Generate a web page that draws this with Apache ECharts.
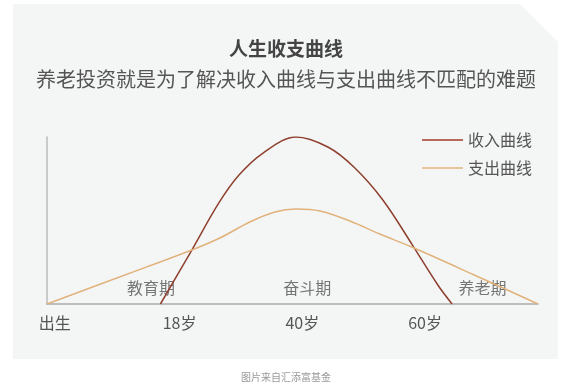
<!DOCTYPE html>
<html>
<head>
<meta charset="utf-8">
<script src="https://cdn.jsdelivr.net/npm/echarts@6/dist/echarts.min.js"></script>
<style>
  html, body { margin: 0; padding: 0; background: #fff; }
  #chart { width: 572px; height: 390px; }
</style>
</head>
<body>
<div id="chart"></div>
<script>
// 横轴用 0-100 的位置刻度（原图年龄刻度不是线性的）
const tickPos = [1.6, 27, 52, 77];
const tickText = ['出生', '18岁', '40岁', '60岁'];

const incomeX = [23.1, 29.5, 35.0, 39.1, 44.0, 50.7, 57.2, 62.5, 68.4, 74.3, 79.6, 82.5];
const incomeY = [0, 32.3, 60.5, 77.2, 90.4, 100, 94.0, 82.0, 62.3, 35.9, 11.4, 0];

const expenseX = [0, 20.2, 29.5, 35.2, 41.3, 46.4, 50.7, 55.6, 61.7, 67.8, 74.3, 87.0, 100];
const expenseY = [0, 22.1, 32.3, 39.5, 49.1, 55.1, 56.9, 55.7, 49.7, 41.9, 34.1, 17.4, 0];

const phaseX = [21.2, 53, 88.7];
const phaseY = [9.6, 9.6, 9.6];
const phaseText = ['教育期', '奋斗期', '养老期'];

const zip = (xs, ys) => xs.map((x, i) => [x, ys[i]]);

const chart = echarts.init(document.getElementById('chart'));
chart.setOption({
  backgroundColor: '#fff',
  animation: false,
  textStyle: { fontFamily: '"Noto Sans CJK SC", sans-serif' },
  graphic: [
    {
      type: 'polygon', z: -10, silent: true,
      shape: { points: [[13, 4], [520, 4], [558, 42], [558, 359], [13, 359]] },
      style: { fill: '#f4f6f5' }
    },
    {
      type: 'text', left: 'center', top: 372,
      style: { text: '图片来自汇添富基金', fill: '#9a9a9a', fontSize: 10, fontFamily: '"Noto Sans CJK SC", sans-serif' }
    }
  ],
  title: {
    text: '人生收支曲线',
    subtext: '养老投资就是为了解决收入曲线与支出曲线不匹配的难题',
    left: 'center',
    top: 34,
    itemGap: 11,
    textStyle: { fontSize: 19, fontWeight: 'bold', color: '#444', fontFamily: '"Noto Sans CJK SC", sans-serif' },
    subtextStyle: { fontSize: 20, color: '#555', fontFamily: '"Noto Sans CJK SC", sans-serif' }
  },
  legend: {
    orient: 'vertical',
    left: 417,
    top: 127,
    itemWidth: 41,
    itemHeight: 2,
    itemGap: 12,
    icon: 'rect',
    textStyle: { fontSize: 16, color: '#555' },
    data: ['收入曲线', '支出曲线']
  },
  grid: { left: 47, right: 34, top: 137, bottom: 86 },
  xAxis: {
    type: 'value', min: 0, max: 100,
    axisLine: { lineStyle: { color: '#aaa', width: 1.5 } },
    axisTick: { show: false },
    splitLine: { show: false },
    axisLabel: {
      customValues: tickPos,
      fontSize: 16, color: '#555', margin: 11,
      formatter: v => {
        let best = 0;
        tickPos.forEach((p, i) => { if (Math.abs(p - v) < Math.abs(tickPos[best] - v)) best = i; });
        return tickText[best];
      }
    }
  },
  yAxis: {
    type: 'value', min: 0, max: 100,
    axisLine: { show: true, lineStyle: { color: '#bbb', width: 1.5 } },
    axisTick: { show: false },
    axisLabel: { show: false },
    splitLine: { show: false }
  },
  series: [
    {
      name: '收入曲线', type: 'line', smooth: 0.35,
      data: zip(incomeX, incomeY),
      symbol: 'none',
      lineStyle: { color: '#8e3f2e', width: 1.5 },
      itemStyle: { color: '#b56a5a' }
    },
    {
      name: '支出曲线', type: 'line', smooth: 0.35,
      data: zip(expenseX, expenseY),
      symbol: 'none',
      lineStyle: { color: '#e2b27c', width: 1.5 },
      itemStyle: { color: '#e8c49a' }
    },
    {
      name: 'phase', type: 'scatter', symbolSize: 0, silent: true,
      data: phaseX.map((x, i) => ({ value: [x, phaseY[i]], name: phaseText[i] })),
      label: { show: true, position: 'inside', formatter: p => p.name, fontSize: 16, color: '#555' }
    }
  ]
});
</script>
</body>
</html>
